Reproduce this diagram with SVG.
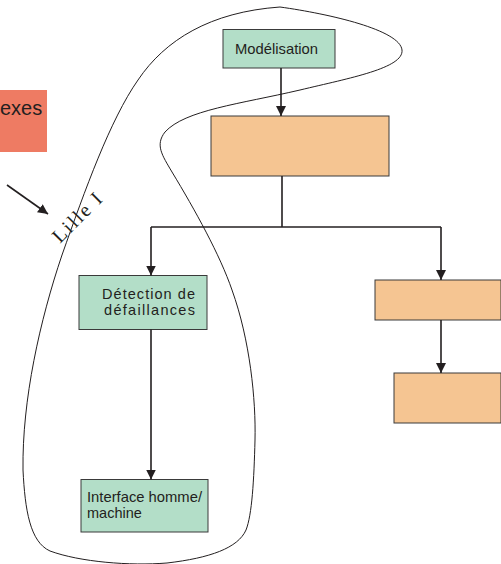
<svg xmlns="http://www.w3.org/2000/svg" width="501" height="564" viewBox="0 0 501 564">
  <style>
    .green { fill: #b3dec8; stroke: #3a3a3a; stroke-width: 1; }
    .orange { fill: #f5c592; stroke: #3a3a3a; stroke-width: 1; }
    .label { font-family: "Liberation Sans", Arial, sans-serif; font-size: 14.5px; fill: #231f20; }
    .edge { fill: none; stroke: #231f20; stroke-width: 1.6; }
    .outline { fill: none; stroke: #231f20; stroke-width: 1; }
  </style>
  <defs>
    <marker id="arrow" viewBox="0 0 10 10" refX="10" refY="5" markerWidth="10" markerHeight="10" markerUnits="userSpaceOnUse" orient="auto">
      <path d="M0,0 L10,5 L0,10 Z" fill="#231f20"/>
    </marker>
  </defs>

  <rect width="501" height="564" fill="#ffffff"/>

  <!-- side panel, partly off the left edge -->
  <g id="annexes">
    <rect x="0" y="90" width="47" height="62" fill="#ee7b63"/>
    <text x="0" y="115" font-family="Liberation Sans, Arial, sans-serif" font-size="20" fill="#231f20">exes</text>
  </g>

  <!-- closed boundary around the Lille I activities -->
  <g id="lille-boundary">
    <path class="outline" d="M 280 7
      C 330 14, 400 30, 402 50
      C 404 68, 350 78, 300 90
      C 240 104, 185 110, 165 132
      C 155 145, 162 155, 172 172
      C 195 210, 220 255, 232 290
      C 250 340, 256 400, 255 440
      C 254 480, 252 515, 246 530
      C 238 548, 210 558, 167 563
      C 130 566, 80 562, 50 551
      C 30 542, 25 510, 23 470
      C 22 400, 40 320, 62 255
      C 85 190, 110 120, 138 80
      C 165 40, 210 12, 280 7 Z"/>
    <text transform="translate(60 244) rotate(-45)" font-family="Liberation Serif, Times New Roman, serif" font-size="20" letter-spacing="2" fill="#231f20">Lille I</text>
  </g>

  <g id="modelisation">
    <rect class="green" x="223" y="29.5" width="112" height="38.5"/>
    <text class="label" x="235" y="54" textLength="83" lengthAdjust="spacingAndGlyphs">Modélisation</text>
  </g>

  <g id="central">
    <rect class="orange" x="211" y="116" width="178" height="60"/>
  </g>

  <g id="detection">
    <rect class="green" x="79" y="275.5" width="128" height="54"/>
    <text class="label" x="102" y="299" textLength="93" lengthAdjust="spacing">Détection de</text>
    <text class="label" x="104" y="315" textLength="91" lengthAdjust="spacing">défaillances</text>
  </g>

  <g id="interface">
    <rect class="green" x="81" y="479.5" width="127" height="52.5"/>
    <text class="label" x="87" y="502" textLength="115" lengthAdjust="spacingAndGlyphs">Interface homme/</text>
    <text class="label" x="87" y="518">machine</text>
  </g>

  <g id="right-upper">
    <rect class="orange" x="375" y="280" width="126" height="40"/>
  </g>

  <g id="right-lower">
    <rect class="orange" x="394" y="373" width="107" height="50"/>
  </g>

  <g id="connectors">
    <line class="edge" x1="7" y1="185" x2="48" y2="214" marker-end="url(#arrow)"/>
    <line class="edge" x1="281" y1="68" x2="281" y2="116" marker-end="url(#arrow)"/>
    <polyline class="edge" points="282,176 282,227"/>
    <polyline class="edge" points="151,227 441,227"/>
    <line class="edge" x1="151" y1="227" x2="151" y2="275.5" marker-end="url(#arrow)"/>
    <line class="edge" x1="441" y1="227" x2="441" y2="280" marker-end="url(#arrow)"/>
    <line class="edge" x1="441" y1="320" x2="441" y2="373" marker-end="url(#arrow)"/>
    <line class="edge" x1="151" y1="329.5" x2="151" y2="479.5" marker-end="url(#arrow)"/>
  </g>
</svg>
